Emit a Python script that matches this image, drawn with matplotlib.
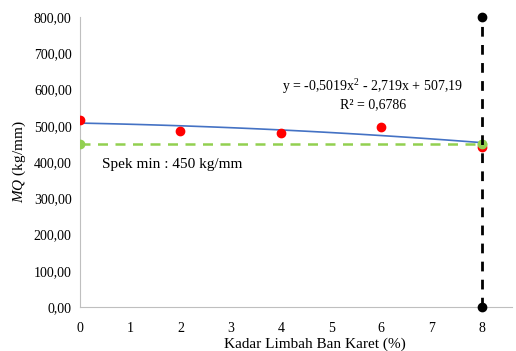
import numpy as np
import matplotlib
matplotlib.use("Agg")
import matplotlib.pyplot as plt
from matplotlib.ticker import FuncFormatter

plt.rcParams['font.family'] = ['Liberation Serif', 'DejaVu Serif']
plt.rcParams['mathtext.fontset'] = 'custom'
plt.rcParams['mathtext.rm'] = 'Liberation Serif'
plt.rcParams['mathtext.it'] = 'Liberation Serif:italic'

# measured MQ per rubber waste content
kadar = [0, 2, 4, 6, 8]
mq = [516, 485, 480, 496, 441]

# polynomial trendline coefficients (order 2)
coef = [-0.5019, -2.719, 507.19]
r2 = 0.6786

spek_x = [0, 8]
spek_y = [450, 450]

batas_x = [8, 8]
batas_y = [0, 800]

fig = plt.figure(figsize=(5.16, 3.51), dpi=100)
ax = fig.add_axes([0.155, 0.125, 0.837, 0.827])

xs = np.linspace(0, 8, 100)
ax.plot(xs, np.polyval(coef, xs), color='#4472C4', lw=1.2, zorder=2)
ax.plot(spek_x, spek_y, color='#92D050', lw=1.8, ls=(0, (4, 3)), marker='o',
        ms=6, zorder=3)
ax.plot(kadar, mq, 'o', color='red', ms=6, zorder=4)
ax.plot(spek_x[1:], spek_y[1:], 'o', color='#92D050', ms=6, zorder=5)
ax.plot(batas_x, batas_y, color='black', lw=2, ls=(0, (3.5, 3)), marker='o',
        ms=6, zorder=6, clip_on=False)

ax.text(5.83, 607, r'y = -0,5019x$^{2}$ - 2,719x + 507,19', ha='center',
        va='center', fontsize=10)
ax.text(5.83, 558, 'R² = ' + f'{r2}'.replace('.', ','), ha='center',
        va='center', fontsize=10)
ax.text(0.44, 394, 'Spek min : 450 kg/mm', ha='left', va='center', fontsize=11)

ax.set_xlim(0, 8.6)
ax.set_ylim(0, 800)
ax.set_xticks(range(9))
ax.set_yticks(range(0, 801, 100))
ax.yaxis.set_major_formatter(FuncFormatter(lambda v, p: f'{v:.2f}'.replace('.', ',')))
ax.tick_params(axis='y', length=0, labelsize=10, pad=6)
ax.tick_params(axis='x', length=0, labelsize=10, pad=11)

for s in ['top', 'right']:
    ax.spines[s].set_visible(False)
for s in ['left', 'bottom']:
    ax.spines[s].set_color('#BFBFBF')

ax.set_xlabel('Kadar Limbah Ban Karet (%)', fontsize=11)
ax.xaxis.set_label_coords(0.544, -0.105)
ax.set_ylabel(r'$MQ$ (kg/mm)', fontsize=11)
ax.yaxis.set_label_coords(-0.12, 0.5)

fig.savefig('out.png', dpi=100)
